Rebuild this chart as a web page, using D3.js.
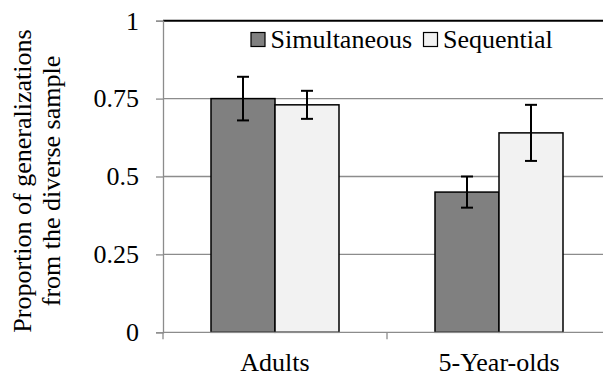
<!DOCTYPE html>
<html>
<head>
<meta charset="utf-8">
<script src="https://cdn.jsdelivr.net/npm/d3@7"></script>
<style>
  body { margin: 0; background: #fff; }
</style>
</head>
<body>
<div id="chart"></div>
<script>
// chart values
const categories = ["Adults", "5-Year-olds"];
const seriesNames = ["Simultaneous", "Sequential"];
const simultaneous = [0.75, 0.45];
const sequential = [0.73, 0.64];
const simultaneousErr = [0.07, 0.05];
const sequentialErr = [0.045, 0.09];
const yTicks = [0, 0.25, 0.5, 0.75, 1];

const seriesValues = [simultaneous, sequential];
const seriesErrs = [simultaneousErr, sequentialErr];
const colors = ["#808080", "#f2f2f2"];

const W = 603, H = 375;
const plot = {left: 163, right: 611, top: 20.7, bottom: 332.3};
const fontSize = 26;
const serif = "'Liberation Serif', 'Times New Roman', Times, serif";

const svg = d3.select("#chart")
  .append("svg")
    .attr("width", W)
    .attr("height", H)
    .style("display", "block");

let y = d3.scaleLinear()
  .domain([0, 1])
  .range([plot.bottom, plot.top]);

// gap width 150% like the original
let x = d3.scaleBand()
  .domain(categories)
  .range([plot.left, plot.right])
  .paddingInner(0.4286)
  .paddingOuter(0.2143);

let xs = d3.scaleBand()
  .domain(seriesNames)
  .range([0, x.bandwidth()]);

// gridlines
svg.append("g")
  .selectAll("line")
  .data(yTicks.filter(d => d > 0 && d < 1))
  .enter()
  .append("line")
    .attr("x1", plot.left)
    .attr("x2", plot.right)
    .attr("y1", d => y(d))
    .attr("y2", d => y(d))
    .attr("stroke", "#8c8c8c")
    .attr("stroke-width", 1.3);

// top border
svg.append("line")
  .attr("x1", plot.left)
  .attr("x2", plot.right)
  .attr("y1", y(1))
  .attr("y2", y(1))
  .attr("stroke", "#000")
  .attr("stroke-width", 2);

// y axis
const yAxis = svg.append("g")
  .attr("transform", "translate(" + plot.left + ",0)")
  .call(d3.axisLeft(y).tickValues(yTicks).tickSize(7).tickPadding(17).tickFormat(d => String(d)));
yAxis.select(".domain").attr("stroke", "#8c8c8c").attr("stroke-width", 1.3);
yAxis.selectAll(".tick line").attr("stroke", "#8c8c8c").attr("stroke-width", 1.3);
yAxis.selectAll(".tick text")
  .style("font-family", serif)
  .style("font-size", fontSize + "px")
  .attr("fill", "#000");

// bars
const groups = svg.append("g")
  .selectAll("g")
  .data(categories)
  .enter()
  .append("g")
    .attr("transform", d => "translate(" + x(d) + ",0)");

groups.selectAll("rect")
  .data((d, i) => seriesNames.map((s, j) => ({ s: s, v: seriesValues[j][i], e: seriesErrs[j][i], j: j })))
  .enter()
  .append("rect")
    .attr("x", d => xs(d.s))
    .attr("y", d => y(d.v))
    .attr("width", xs.bandwidth())
    .attr("height", d => y(0) - y(d.v))
    .attr("fill", d => colors[d.j])
    .attr("stroke", "#000")
    .attr("stroke-width", 1.5);

// error bars
const err = groups.selectAll("g.err")
  .data((d, i) => seriesNames.map((s, j) => ({ s: s, v: seriesValues[j][i], e: seriesErrs[j][i] })))
  .enter()
  .append("g")
    .attr("class", "err")
    .attr("transform", d => "translate(" + (xs(d.s) + xs.bandwidth() / 2) + ",0)");
err.append("line")
  .attr("y1", d => y(d.v + d.e))
  .attr("y2", d => y(d.v - d.e))
  .attr("stroke", "#000")
  .attr("stroke-width", 2);
err.selectAll("line.cap")
  .data(d => [d.v + d.e, d.v - d.e])
  .enter()
  .append("line")
    .attr("class", "cap")
    .attr("x1", -6)
    .attr("x2", 6)
    .attr("y1", d => y(d))
    .attr("y2", d => y(d))
    .attr("stroke", "#000")
    .attr("stroke-width", 2);

// x axis
svg.append("line")
  .attr("x1", plot.left)
  .attr("x2", plot.right)
  .attr("y1", plot.bottom)
  .attr("y2", plot.bottom)
  .attr("stroke", "#8c8c8c")
  .attr("stroke-width", 1.3);

const step = x.step();
svg.append("g")
  .selectAll("line")
  .data(d3.range(categories.length + 1))
  .enter()
  .append("line")
    .attr("x1", i => plot.left + i * step)
    .attr("x2", i => plot.left + i * step)
    .attr("y1", plot.bottom)
    .attr("y2", plot.bottom + 7)
    .attr("stroke", "#8c8c8c")
    .attr("stroke-width", 1.3);

svg.append("g")
  .selectAll("text")
  .data(categories)
  .enter()
  .append("text")
    .attr("x", d => x(d) + x.bandwidth() / 2)
    .attr("y", 371)
    .attr("text-anchor", "middle")
    .style("font-family", serif)
    .style("font-size", fontSize + "px")
    .text(d => d);

// y title
const title = svg.append("text")
  .attr("transform", "translate(0,181) rotate(-90)")
  .attr("text-anchor", "middle")
  .style("font-family", serif)
  .style("font-size", fontSize + "px");
title.append("tspan").attr("x", 0).attr("y", 31).text("Proportion of generalizations");
title.append("tspan").attr("x", 0).attr("y", 60).text("from the diverse sample");

// legend
const legendX = [251, 423.5];
const legend = svg.append("g")
  .selectAll("g")
  .data(seriesNames)
  .enter()
  .append("g")
    .attr("transform", (d, i) => "translate(" + legendX[i] + ",32.5)");
legend.append("rect")
  .attr("width", 14)
  .attr("height", 14)
  .attr("fill", (d, i) => colors[i])
  .attr("stroke", "#000")
  .attr("stroke-width", 1.2);
legend.append("text")
  .attr("x", 19.5)
  .attr("y", 15.5)
  .style("font-family", serif)
  .style("font-size", fontSize + "px")
  .text(d => d);
</script>
</body>
</html>
